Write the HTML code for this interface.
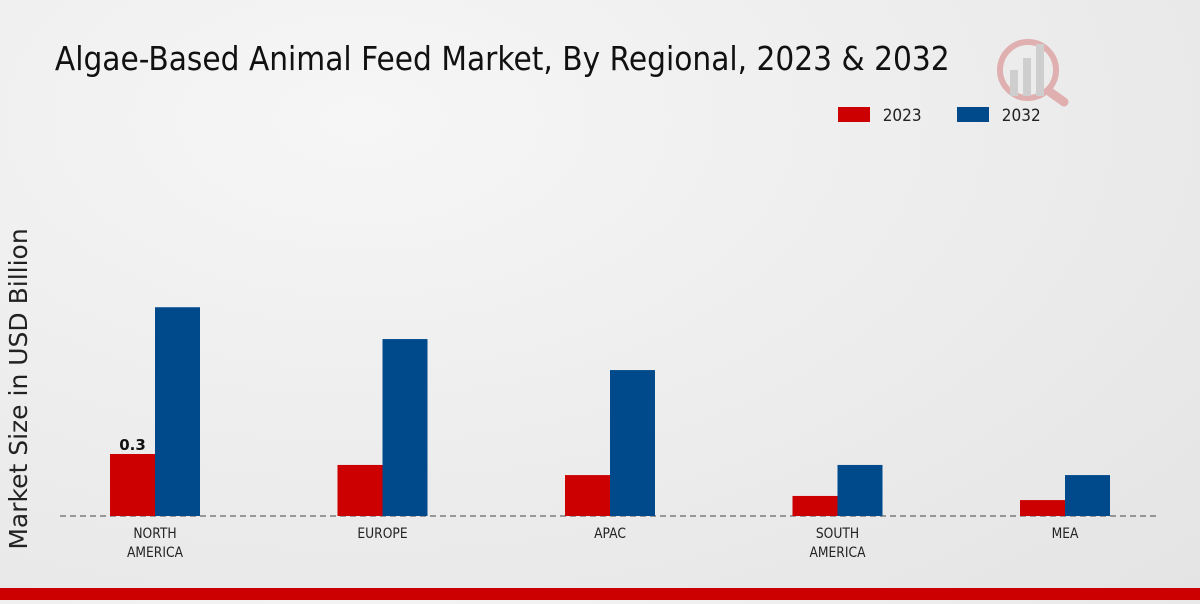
<!DOCTYPE html>
<html><head><meta charset="utf-8"><style>
body{margin:0;width:1200px;height:600px;overflow:hidden;background:radial-gradient(ellipse at 30% 20%,#f6f6f6,#e4e4e4);font-family:"DejaVu Sans","Liberation Sans",sans-serif;}
</style></head><body>
<svg width="1200" height="600">
<text x="61" y="70" font-size="33" fill="#111" font-family="DejaVu Sans, sans-serif" transform="scale(0.90,1)">Algae-Based Animal Feed Market, By Regional, 2023 &amp; 2032</text>
<g opacity="0.35">
<circle cx="1028" cy="70" r="28" fill="none" stroke="#c44" stroke-width="6"/>
<line x1="1050" y1="92" x2="1064" y2="102" stroke="#c44" stroke-width="9" stroke-linecap="round"/>
<rect x="1010" y="70" width="8" height="26" fill="#999"/><rect x="1023" y="58" width="8" height="38" fill="#999"/><rect x="1036" y="44" width="8" height="52" fill="#999"/>
</g>
<g>
<rect x="838" y="107" width="32" height="15" fill="#cc0000"/>
<text x="883" y="121" font-size="17" fill="#222" transform="translate(88,0) scale(0.9,1)">2023</text>
<rect x="957" y="107" width="32" height="15" fill="#004a8c"/>
<text x="1002" y="121" font-size="17" fill="#222" transform="translate(100,0) scale(0.9,1)">2032</text>
</g>
<text transform="translate(27,389) rotate(-90)" text-anchor="middle" font-size="25" fill="#222">Market Size in USD Billion</text>
<line x1="60" y1="516" x2="1160" y2="516" stroke="#444" stroke-dasharray="6,4"/>
<g id="bars"></g>
<rect x="0" y="588" width="1200" height="12" fill="#cc0000"/>
</svg>
<script>
const categories=[["NORTH","AMERICA"],["EUROPE"],["APAC"],["SOUTH","AMERICA"],["MEA"]];
const values2023=[0.30,0.247,0.198,0.097,0.077];
const values2032=[1.01,0.856,0.706,0.247,0.198];
const base=516,scale=206.7,x0=155,step=227.5,bw=45;
const ns="http://www.w3.org/2000/svg";const g=document.getElementById('bars');
function y(v){return base-v*scale;}
categories.forEach((c,i)=>{
 const cx=x0+i*step;
 [[values2023,'#cc0000',cx-bw,'2023'],[values2032,'#004a8c',cx,'2032']].forEach(([arr,col,x,s])=>{
  const r=document.createElementNS(ns,'rect');
  r.setAttribute('x',x);r.setAttribute('y',y(arr[i]));r.setAttribute('width',bw);r.setAttribute('height',arr[i]*scale);r.setAttribute('fill',col);
  
  
  g.appendChild(r);
 });
 c.forEach((line,j)=>{
  const t=document.createElementNS(ns,'text');
  t.setAttribute('x',cx/0.88);t.setAttribute('y',538+j*19);t.setAttribute('text-anchor','middle');t.setAttribute('font-size','14');t.setAttribute('fill','#222');
  t.setAttribute('transform','scale(0.88,1)');
  t.textContent=line;
  
  
  g.appendChild(t);
 });
});
const lab=document.createElementNS(ns,'text');
lab.setAttribute('x',x0-bw/2);lab.setAttribute('y',y(values2023[0])-4);lab.setAttribute('text-anchor','middle');lab.setAttribute('font-size','15');lab.setAttribute('font-weight','bold');lab.setAttribute('fill','#111');
lab.textContent=values2023[0].toFixed(1);


g.appendChild(lab);
</script>
</body></html>
